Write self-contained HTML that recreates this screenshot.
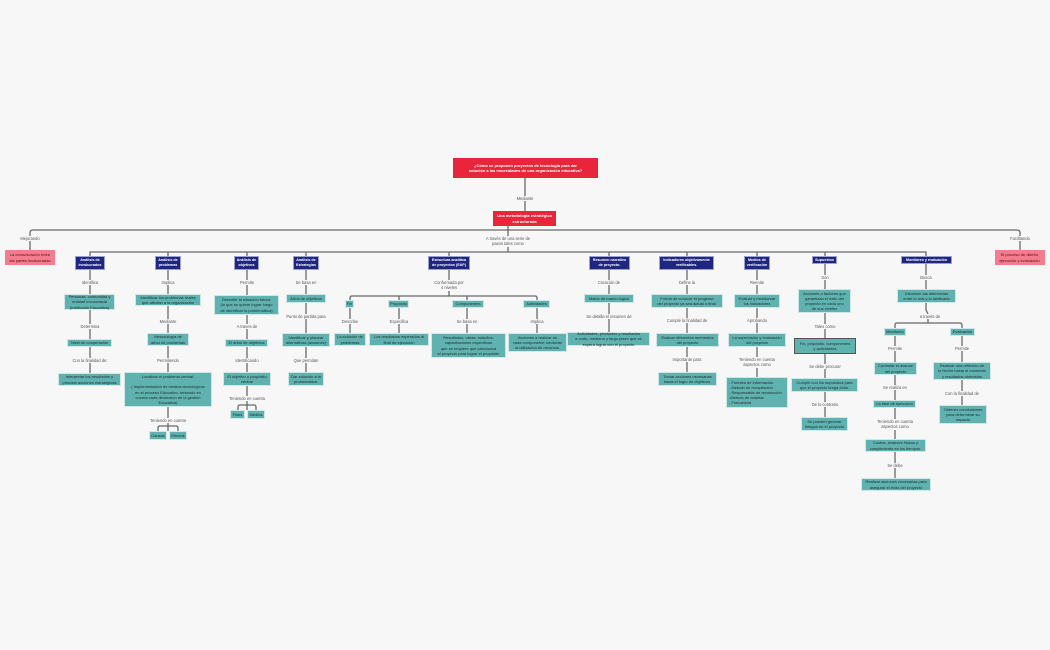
<!DOCTYPE html>
<html><head><meta charset="utf-8">
<style>
html,body{margin:0;padding:0;}
body{width:1050px;height:650px;background:#f7f7f7;position:relative;overflow:hidden;font-family:"Liberation Sans",sans-serif;}
svg{position:absolute;left:0;top:0;}
.b{position:absolute;display:flex;align-items:center;justify-content:center;text-align:center;font-size:4px;line-height:5.1px;box-sizing:border-box;color:#1c2b2b;white-space:nowrap;}
.t{background:#5fb2af;border:0.7px solid #cfe7e6;}
.n{background:#1f2680;color:#fff;font-weight:bold;border:0.7px solid #9aa0d0;font-size:3.7px;line-height:4.8px;}
.r{background:#e8253a;color:#fff;font-weight:bold;}
.p{background:#f47c8e;color:#4a0f18;}
.l{position:absolute;font-size:4.1px;line-height:5.3px;color:#555;text-align:center;background:#f7f7f7;transform:translateX(-50%);white-space:nowrap;padding:0 1px;}
.left{text-align:left;justify-content:flex-start;padding-left:2px;}
</style></head><body>
<svg width="1050" height="650" fill="none" stroke="#6a6a6a" stroke-width="1.3">
<path d="M525 178V211"/>
<path d="M30 236V233q0-3 3-3H1017q3 0 3 3V250"/>
<path d="M30 236V250"/>
<path d="M508 226V230"/>
<path d="M508 230V252"/>
<path d="M90 258V252H926V258"/>
<path d="M168 252V256M247 252V256M306 252V256M449 252V256M609 252V256M687 252V256M757 252V256M825 252V256"/>
<path d="M90 270V373"/>
<path d="M168 270V431"/>
<path d="M158 431V428q0-2 2-2H176q2 0 2 2V431"/>
<path d="M247 270V410"/>
<path d="M238 410V407q0-2 2-2H254q2 0 2 2V410"/>
<path d="M306 270V372"/>
<path d="M449 270V296"/>
<path d="M350 300V298q0-2 2-2H535q2 0 2 2V300M399 296V300M467 296V300"/>
<path d="M350 308V333M399 308V333M467 308V333M537 308V333"/>
<path d="M609 270V332"/>
<path d="M687 270V372"/>
<path d="M757 270V377"/>
<path d="M825 264V417"/>
<path d="M926 264V310l2 4V323"/>
<path d="M895 328V325q0-2 2-2H960q2 0 2 2V328"/>
<path d="M895 336V478"/>
<path d="M962 336V405"/>
</svg>

<div class="b r" style="left:453px;top:158px;width:145px;height:20px;">¿Cómo se proponen proyectos de tecnología para dar<br>solución a las necesidades de una organización educativa?</div>
<div class="l" style="left:525px;top:196px;">Mediante</div>
<div class="b r" style="left:493px;top:211px;width:63px;height:15px;">Una metodología estratégica<br>estructurada</div>
<div class="l" style="left:30px;top:236px;">Mejorando</div>
<div class="b p" style="left:5px;top:250px;width:50px;height:15px;">La comunicación entre<br>las partes involucradas</div>
<div class="l" style="left:1020px;top:236px;">Facilitando</div>
<div class="b p" style="left:995px;top:250px;width:50px;height:15px;">El proceso de diseño,<br>ejecución y evaluación.</div>
<div class="l" style="left:508px;top:236px;">A través de una serie de<br>pasos tales como</div>

<div class="b n" style="left:75px;top:256px;width:30px;height:14px;">Análisis de<br>involucrados</div>
<div class="b n" style="left:155px;top:256px;width:26px;height:14px;">Análisis de<br>problemas</div>
<div class="b n" style="left:234px;top:256px;width:25px;height:14px;">Análisis de<br>objetivos</div>
<div class="b n" style="left:293px;top:256px;width:26px;height:14px;">Análisis de<br>Estrategias</div>
<div class="b n" style="left:428px;top:256px;width:42px;height:14px;">Estructura analítica<br>de proyectos (EAP)</div>
<div class="b n" style="left:589px;top:256px;width:41px;height:14px;">Resumen narrativo<br>de proyecto.</div>
<div class="b n" style="left:659px;top:256px;width:55px;height:14px;">Indicadores objetivamente<br>verificables.</div>
<div class="b n" style="left:744px;top:256px;width:26px;height:14px;">Medios de<br>verificación</div>
<div class="b n" style="left:812px;top:256px;width:25px;height:8px;">Supuestos</div>
<div class="b n" style="left:901px;top:256px;width:51px;height:8px;">Monitoreo y evaluación</div>

<div class="l" style="left:90px;top:280px;">Identifica</div>
<div class="b t" style="left:64px;top:294px;width:51px;height:16px;">Personas, comunidad y<br>entidad involucrada<br>(Institución Educativa)</div>
<div class="l" style="left:90px;top:324px;">Determina</div>
<div class="b t" style="left:67px;top:339px;width:45px;height:8px;">Nivel de cooperación</div>
<div class="l" style="left:90px;top:358px;">Con la finalidad de:</div>
<div class="b t" style="left:58px;top:373px;width:63px;height:13px;">Interpretar los resultados y<br>priorizar acciones estratégicas</div>

<div class="l" style="left:168px;top:280px;">Implica</div>
<div class="b t" style="left:135px;top:294px;width:66px;height:12px;">Identificar los problemas reales<br>que afectan a la organización</div>
<div class="l" style="left:168px;top:319px;">Mediante</div>
<div class="b t" style="left:147px;top:333px;width:42px;height:13px;">Metodología de<br>árbol de problemas</div>
<div class="l" style="left:168px;top:358px;">Permitiendo</div>
<div class="b t" style="left:124px;top:372px;width:88px;height:35px;">Localizar el problema central.<br><br>( Implementación de medios tecnológicos<br>en el proceso Educativo, teniendo en<br>cuenta cada dimensión de la gestión<br>Educativa)</div>
<div class="l" style="left:168px;top:418px;">Teniendo en cuenta</div>
<div class="b t" style="left:149px;top:431px;width:18px;height:9px;">Causas</div>
<div class="b t" style="left:169px;top:431px;width:18px;height:9px;">Efectos</div>

<div class="l" style="left:247px;top:280px;">Permite</div>
<div class="b t" style="left:214px;top:295px;width:65px;height:20px;">Describir la situación futura.<br>(lo que se quiere lograr luego<br>de identificar la problemática)</div>
<div class="l" style="left:247px;top:324px;">A traves de</div>
<div class="b t" style="left:225px;top:339px;width:43px;height:8px;">El árbol de objetivos</div>
<div class="l" style="left:247px;top:358px;">Identificando</div>
<div class="b t" style="left:223px;top:372px;width:48px;height:14px;">El objetivo o propósito<br>central</div>
<div class="l" style="left:247px;top:396px;">Teniendo en cuenta</div>
<div class="b t" style="left:230px;top:410px;width:15px;height:9px;">Fines</div>
<div class="b t" style="left:247px;top:410px;width:18px;height:9px;">Medios</div>

<div class="l" style="left:306px;top:280px;">Se basa en</div>
<div class="b t" style="left:286px;top:294px;width:40px;height:9px;">Árbol de objetivos</div>
<div class="l" style="left:306px;top:314px;">Punto de partida para</div>
<div class="b t" style="left:282px;top:333px;width:48px;height:14px;">Identificar y planear<br>alternativas (acciones)</div>
<div class="l" style="left:306px;top:358px;">Que permitan</div>
<div class="b t" style="left:288px;top:372px;width:36px;height:14px;">Dar solución a la<br>problemática.</div>

<div class="l" style="left:449px;top:280px;">Conformada por<br>4 niveles</div>
<div class="b t" style="left:345px;top:300px;width:9px;height:8px;">Fin</div>
<div class="b t" style="left:388px;top:300px;width:21px;height:8px;">Propósito</div>
<div class="b t" style="left:452px;top:300px;width:32px;height:8px;">Componentes</div>
<div class="b t" style="left:523px;top:300px;width:27px;height:8px;">Actividades</div>
<div class="l" style="left:350px;top:319px;">Describe</div>
<div class="l" style="left:399px;top:319px;">Especifica</div>
<div class="l" style="left:467px;top:319px;">Se basa en</div>
<div class="l" style="left:537px;top:319px;">Implica</div>
<div class="b t" style="left:334px;top:333px;width:32px;height:13px;">La solución de<br>problemas</div>
<div class="b t" style="left:369px;top:333px;width:60px;height:13px;">Los resultados esperados al<br>final de ejecución</div>
<div class="b t" style="left:431px;top:333px;width:75px;height:25px;">Resultados, obras, estudios,<br>capacitaciones especificas<br>que se requiere que preoduzca<br>el proyecto para lograr el propósito</div>
<div class="b t" style="left:508px;top:333px;width:59px;height:19px;">Acciones a realizar en<br>cada componente mediante<br>la utilización de recursos.</div>

<div class="l" style="left:609px;top:280px;">Creación de</div>
<div class="b t" style="left:584px;top:294px;width:50px;height:9px;">Matriz de marco lógico</div>
<div class="l" style="left:609px;top:314px;">Se detalla el resumen de</div>
<div class="b t" style="left:567px;top:332px;width:83px;height:14px;">Actividades, productos y resultados<br>a corto, mediano y largo plazo que se<br>espera lograr con el proyecto</div>

<div class="l" style="left:687px;top:280px;">Define la</div>
<div class="b t" style="left:651px;top:294px;width:72px;height:14px;">Forma de conocer el progreso<br>del proyecto ya sea actual o final.</div>
<div class="l" style="left:687px;top:318px;">Cumple la finalidad de</div>
<div class="b t" style="left:656px;top:333px;width:63px;height:14px;">Evaluar diferentes momentos<br>del proyecto</div>
<div class="l" style="left:687px;top:357px;">Importante para</div>
<div class="b t" style="left:658px;top:372px;width:59px;height:14px;">Tomar acciones necesarias<br>hacia el logro de objetivos.</div>

<div class="l" style="left:757px;top:280px;">Reenite</div>
<div class="b t" style="left:734px;top:294px;width:46px;height:14px;">Evaluar y monitorear<br>los indicadores</div>
<div class="l" style="left:757px;top:318px;">Aprobando</div>
<div class="b t" style="left:728px;top:333px;width:58px;height:14px;">La supervisión y evaluación<br>del proyecto</div>
<div class="l" style="left:757px;top:357px;">Teniendo en cuenta<br>aspectos como</div>
<div class="b t left" style="left:726px;top:377px;width:62px;height:31px;text-align:left;">- Fuentes de información<br>- Metodo de recopilación<br>- Responsable de recolección<br>-Metodo de análisis<br>- Frecuencia</div>

<div class="l" style="left:825px;top:275px;">Son</div>
<div class="b t" style="left:798px;top:289px;width:53px;height:24px;">Acciones o factores que<br>garantizan el éxito del<br>proyecto en cada uno<br>de sus niveles</div>
<div class="l" style="left:825px;top:324px;">Tales como</div>
<div class="b t" style="left:794px;top:338px;width:62px;height:16px;border:0.8px solid #555;">Fin, propósito, componentes<br>y actividades</div>
<div class="l" style="left:825px;top:364px;">Se debe procurar</div>
<div class="b t" style="left:791px;top:378px;width:67px;height:14px;">Cumplir con los supuestos para<br>que el proyecto tenga éxito.</div>
<div class="l" style="left:825px;top:402px;">De lo contrario</div>
<div class="b t" style="left:801px;top:417px;width:47px;height:14px;">Se pueden generar<br>riesgos en el proyecto</div>

<div class="l" style="left:926px;top:275px;">Busca</div>
<div class="b t" style="left:897px;top:289px;width:59px;height:14px;">Disminuir las diferencias<br>entre lo real y lo lanificado</div>
<div class="l" style="left:930px;top:314px;">a través de</div>
<div class="b t" style="left:884px;top:328px;width:22px;height:8px;">Monitoreo</div>
<div class="b t" style="left:950px;top:328px;width:25px;height:8px;">Evaluación</div>
<div class="l" style="left:895px;top:346px;">Permite</div>
<div class="l" style="left:962px;top:346px;">Permite</div>
<div class="b t" style="left:874px;top:362px;width:43px;height:13px;">Controlar el avance<br>del proyecto</div>
<div class="b t" style="left:933px;top:362px;width:58px;height:18px;">Realizar una reflexión de<br>lo hecho hasta el momento<br>y resultados obtenidos</div>
<div class="l" style="left:895px;top:385px;">Se realiza en</div>
<div class="l" style="left:962px;top:391px;">Con la finalidad de</div>
<div class="b t" style="left:873px;top:400px;width:43px;height:8px;">La fase de ejecución</div>
<div class="b t" style="left:939px;top:405px;width:48px;height:19px;">Obtener conclusiones<br>para determinar su<br>impacto</div>
<div class="l" style="left:895px;top:419px;">Teniendo en cuenta<br>aspectos como</div>
<div class="b t" style="left:865px;top:439px;width:61px;height:13px;">Costos, avances físicos y<br>cumplimiento en los tiempos.</div>
<div class="l" style="left:895px;top:463px;">Se debe</div>
<div class="b t" style="left:861px;top:478px;width:70px;height:13px;">Realizar acciones necesarias para<br>asegurar el éxito del proyecto</div>
</body></html>
